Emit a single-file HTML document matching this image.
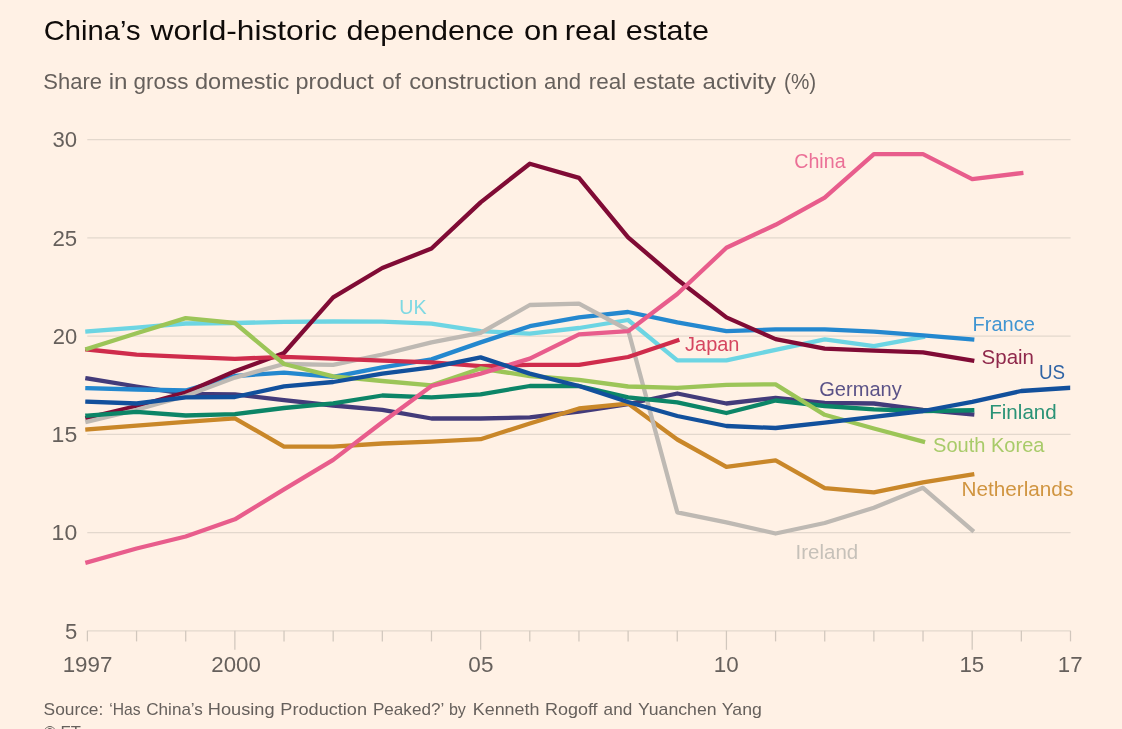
<!DOCTYPE html>
<html lang="en">
<head>
<meta charset="utf-8">
<title>China's world-historic dependence on real estate</title>
<style>
html,body{margin:0;padding:0;background:#fff1e5;}
body{width:1122px;height:729px;overflow:hidden;font-family:"Liberation Sans",sans-serif;}
svg{display:block;}
svg text{font-family:"Liberation Sans",sans-serif;}
.grid line{stroke:#e3d8cd;stroke-width:1.3;}
.tick line{stroke:#d1c7bd;stroke-width:1.25;}
.ser polyline{fill:none;stroke-width:4.3;stroke-linejoin:round;stroke-linecap:square;}
</style>
</head>
<body>
<svg width="1122" height="729" viewBox="0 0 1122 729">
<rect x="0" y="0" width="1122" height="729" fill="#fff1e5"/>
<g class="grid">
<line x1="87.3" x2="1070.6" y1="139.6" y2="139.6"/>
<line x1="87.3" x2="1070.6" y1="237.9" y2="237.9"/>
<line x1="87.3" x2="1070.6" y1="336.2" y2="336.2"/>
<line x1="87.3" x2="1070.6" y1="434.4" y2="434.4"/>
<line x1="87.3" x2="1070.6" y1="532.6" y2="532.6"/>
<line x1="87.3" x2="1070.6" y1="630.8" y2="630.8"/>
</g>
<g class="tick">
<line x1="87.40" x2="87.40" y1="630.8" y2="641.4"/>
<line x1="136.56" x2="136.56" y1="630.8" y2="641.4"/>
<line x1="185.71" x2="185.71" y1="630.8" y2="641.4"/>
<line x1="234.87" x2="234.87" y1="630.8" y2="649.8"/>
<line x1="284.02" x2="284.02" y1="630.8" y2="641.4"/>
<line x1="333.18" x2="333.18" y1="630.8" y2="641.4"/>
<line x1="382.33" x2="382.33" y1="630.8" y2="641.4"/>
<line x1="431.49" x2="431.49" y1="630.8" y2="641.4"/>
<line x1="480.64" x2="480.64" y1="630.8" y2="649.8"/>
<line x1="529.79" x2="529.79" y1="630.8" y2="641.4"/>
<line x1="578.95" x2="578.95" y1="630.8" y2="641.4"/>
<line x1="628.11" x2="628.11" y1="630.8" y2="641.4"/>
<line x1="677.26" x2="677.26" y1="630.8" y2="641.4"/>
<line x1="726.42" x2="726.42" y1="630.8" y2="649.8"/>
<line x1="775.57" x2="775.57" y1="630.8" y2="641.4"/>
<line x1="824.73" x2="824.73" y1="630.8" y2="641.4"/>
<line x1="873.88" x2="873.88" y1="630.8" y2="641.4"/>
<line x1="923.03" x2="923.03" y1="630.8" y2="641.4"/>
<line x1="972.19" x2="972.19" y1="630.8" y2="649.8"/>
<line x1="1021.35" x2="1021.35" y1="630.8" y2="641.4"/>
<line x1="1070.50" x2="1070.50" y1="630.8" y2="641.4"/>
</g>
<defs><clipPath id="plotclip"><rect x="80" y="100" width="990.2" height="540"/></clipPath></defs>
<g class="ser" clip-path="url(#plotclip)">
<polyline stroke="#6dd5e3" points="87.4,331.4 136.6,327.6 185.7,323.5 234.9,323.0 284.0,321.8 333.2,321.5 382.3,321.7 431.5,323.7 480.6,331.2 529.8,333.7 579.0,328.0 628.1,320.0 677.3,360.4 726.4,360.4 775.6,349.9 824.7,339.4 873.9,346.1 923.0,337.0"/>
<polyline stroke="#433b7a" points="87.4,378.4 136.6,386.5 185.7,393.8 234.9,394.4 284.0,400.2 333.2,405.5 382.3,409.8 431.5,418.5 480.6,418.5 529.8,417.3 579.0,411.5 628.1,404.0 677.3,393.5 726.4,403.5 775.6,397.8 824.7,402.8 873.9,403.5 923.0,409.8 972.2,414.4"/>
<polyline stroke="#2488cf" points="87.4,388.1 136.6,389.5 185.7,390.5 234.9,376.0 284.0,372.7 333.2,376.9 382.3,367.3 431.5,359.4 480.6,342.4 529.8,326.2 579.0,317.4 628.1,312.0 677.3,322.4 726.4,331.2 775.6,329.4 824.7,329.4 873.9,331.7 923.0,335.4 972.2,339.4"/>
<polyline stroke="#c98729" points="87.4,429.5 136.6,425.6 185.7,421.8 234.9,418.3 284.0,446.7 333.2,446.7 382.3,443.5 431.5,441.7 480.6,439.2 529.8,423.5 579.0,408.5 628.1,403.6 677.3,439.5 726.4,466.9 775.6,460.3 824.7,488.1 873.9,492.3 923.0,482.4 972.2,474.4"/>
<polyline stroke="#800b35" points="87.4,417.8 136.6,406.0 185.7,392.5 234.9,371.3 284.0,353.0 333.2,297.3 382.3,268.0 431.5,248.5 480.6,202.4 529.8,163.7 579.0,177.9 628.1,237.3 677.3,279.5 726.4,317.4 775.6,339.1 824.7,348.6 873.9,350.6 923.0,352.4 972.2,360.6"/>
<polyline stroke="#beb9b3" points="87.4,421.7 136.6,409.8 185.7,396.0 234.9,377.6 284.0,364.0 333.2,364.9 382.3,354.5 431.5,342.4 480.6,332.9 529.8,305.0 579.0,303.7 628.1,330.0 677.3,512.3 726.4,522.3 775.6,533.5 824.7,523.0 873.9,507.8 923.0,487.8 972.2,530.3"/>
<polyline stroke="#cf2c4c" points="87.4,349.5 136.6,354.6 185.7,356.8 234.9,358.9 284.0,356.8 333.2,358.7 382.3,360.6 431.5,362.4 480.6,366.1 529.8,364.9 579.0,364.9 628.1,357.0 677.3,340.4"/>
<polyline stroke="#0c8567" points="87.4,415.6 136.6,411.8 185.7,415.5 234.9,414.1 284.0,408.0 333.2,403.3 382.3,395.5 431.5,397.3 480.6,394.3 529.8,386.0 579.0,386.0 628.1,397.3 677.3,402.3 726.4,413.0 775.6,400.5 824.7,406.0 873.9,409.3 923.0,411.0 972.2,410.3"/>
<polyline stroke="#9cc558" points="87.4,348.8 136.6,333.3 185.7,318.1 234.9,323.0 284.0,364.0 333.2,376.3 382.3,381.0 431.5,385.3 480.6,368.5 529.8,376.0 579.0,379.8 628.1,386.5 677.3,387.8 726.4,384.8 775.6,384.3 824.7,414.8 873.9,428.5 923.0,441.5"/>
<polyline stroke="#e85d8c" points="87.4,562.3 136.6,548.5 185.7,536.5 234.9,519.3 284.0,489.4 333.2,459.9 382.3,422.3 431.5,386.0 480.6,373.6 529.8,358.6 579.0,334.4 628.1,331.2 677.3,294.0 726.4,247.8 775.6,224.8 824.7,197.6 873.9,154.2 923.0,154.2 972.2,179.1 1021.3,173.1"/>
<polyline stroke="#12509c" points="87.4,401.7 136.6,403.5 185.7,397.4 234.9,397.0 284.0,386.3 333.2,382.0 382.3,373.6 431.5,367.3 480.6,357.4 529.8,373.6 579.0,386.0 628.1,402.0 677.3,416.0 726.4,426.0 775.6,428.0 824.7,422.7 873.9,416.8 923.0,411.0 972.2,401.8 1021.3,391.0 1070.5,387.8"/>
</g>
<g class="txt">
<text y="40.4" font-size="28.5" fill="#0f0b09"><tspan x="43.76" textLength="96.75" lengthAdjust="spacingAndGlyphs">China’s</tspan> <tspan x="150.57" textLength="186.56" lengthAdjust="spacingAndGlyphs">world-historic</tspan> <tspan x="346.42" textLength="167.72" lengthAdjust="spacingAndGlyphs">dependence</tspan> <tspan x="523.99" textLength="34.48" lengthAdjust="spacingAndGlyphs">on</tspan> <tspan x="564.71" textLength="51.88" lengthAdjust="spacingAndGlyphs">real</tspan> <tspan x="625.68" textLength="83.21" lengthAdjust="spacingAndGlyphs">estate</tspan></text>
<text y="88.6" font-size="21.2" fill="#66605c"><tspan x="43.35" textLength="58.69" lengthAdjust="spacingAndGlyphs">Share</tspan> <tspan x="108.74" textLength="18.84" lengthAdjust="spacingAndGlyphs">in</tspan> <tspan x="133.47" textLength="54.92" lengthAdjust="spacingAndGlyphs">gross</tspan> <tspan x="194.98" textLength="94.18" lengthAdjust="spacingAndGlyphs">domestic</tspan> <tspan x="295.57" textLength="78.15" lengthAdjust="spacingAndGlyphs">product</tspan> <tspan x="382.37" textLength="18.63" lengthAdjust="spacingAndGlyphs">of</tspan> <tspan x="409.21" textLength="127.89" lengthAdjust="spacingAndGlyphs">construction</tspan> <tspan x="544.08" textLength="36.92" lengthAdjust="spacingAndGlyphs">and</tspan> <tspan x="588.85" textLength="37.49" lengthAdjust="spacingAndGlyphs">real</tspan> <tspan x="633.32" textLength="62.23" lengthAdjust="spacingAndGlyphs">estate</tspan> <tspan x="702.61" textLength="73.36" lengthAdjust="spacingAndGlyphs">activity</tspan> <tspan x="784.12" textLength="32.13" lengthAdjust="spacingAndGlyphs">(%)</tspan></text>
<text y="715.0" font-size="16.6" fill="#66605c"><tspan x="43.61" textLength="59.68" lengthAdjust="spacingAndGlyphs">Source:</tspan> <tspan x="109.32" textLength="31.35" lengthAdjust="spacingAndGlyphs">‘Has</tspan> <tspan x="146.29" textLength="56.61" lengthAdjust="spacingAndGlyphs">China’s</tspan> <tspan x="207.75" textLength="66.80" lengthAdjust="spacingAndGlyphs">Housing</tspan> <tspan x="280.39" textLength="86.66" lengthAdjust="spacingAndGlyphs">Production</tspan> <tspan x="372.95" textLength="70.64" lengthAdjust="spacingAndGlyphs">Peaked?’</tspan> <tspan x="448.93" textLength="16.98" lengthAdjust="spacingAndGlyphs">by</tspan> <tspan x="472.76" textLength="66.64" lengthAdjust="spacingAndGlyphs">Kenneth</tspan> <tspan x="544.97" textLength="52.58" lengthAdjust="spacingAndGlyphs">Rogoff</tspan> <tspan x="603.64" textLength="28.59" lengthAdjust="spacingAndGlyphs">and</tspan> <tspan x="638.02" textLength="78.51" lengthAdjust="spacingAndGlyphs">Yuanchen</tspan> <tspan x="721.86" textLength="39.96" lengthAdjust="spacingAndGlyphs">Yang</tspan></text>
<text x="52.58" y="147.4" font-size="21.5" fill="#66605c" textLength="24.60" lengthAdjust="spacingAndGlyphs">30</text>
<text x="52.46" y="245.7" font-size="21.5" fill="#66605c" textLength="24.73" lengthAdjust="spacingAndGlyphs">25</text>
<text x="52.77" y="344.0" font-size="21.5" fill="#66605c" textLength="24.40" lengthAdjust="spacingAndGlyphs">20</text>
<text x="51.61" y="442.2" font-size="21.5" fill="#66605c" textLength="25.66" lengthAdjust="spacingAndGlyphs">15</text>
<text x="51.61" y="540.4" font-size="21.5" fill="#66605c" textLength="25.56" lengthAdjust="spacingAndGlyphs">10</text>
<text x="64.91" y="638.6" font-size="21.5" fill="#66605c" textLength="12.28" lengthAdjust="spacingAndGlyphs">5</text>
<text x="62.68" y="671.6" font-size="21.5" fill="#66605c" textLength="49.71" lengthAdjust="spacingAndGlyphs">1997</text>
<text x="211.30" y="671.6" font-size="21.5" fill="#66605c" textLength="49.50" lengthAdjust="spacingAndGlyphs">2000</text>
<text x="468.36" y="671.6" font-size="21.5" fill="#66605c" textLength="25.04" lengthAdjust="spacingAndGlyphs">05</text>
<text x="713.83" y="671.6" font-size="21.5" fill="#66605c" textLength="24.89" lengthAdjust="spacingAndGlyphs">10</text>
<text x="959.46" y="671.6" font-size="21.5" fill="#66605c" textLength="24.80" lengthAdjust="spacingAndGlyphs">15</text>
<text x="1057.84" y="671.6" font-size="21.5" fill="#66605c" textLength="24.75" lengthAdjust="spacingAndGlyphs">17</text>
<text x="794.27" y="167.8" font-size="20.5" fill="#e85d8c" fill-opacity="0.88" textLength="51.31" lengthAdjust="spacingAndGlyphs">China</text>
<text x="972.51" y="330.5" font-size="20.5" fill="#2488cf" fill-opacity="0.88" textLength="62.33" lengthAdjust="spacingAndGlyphs">France</text>
<text x="981.60" y="363.7" font-size="20.5" fill="#800b35" fill-opacity="0.88" textLength="52.37" lengthAdjust="spacingAndGlyphs">Spain</text>
<text x="1039.04" y="379.4" font-size="20.5" fill="#12509c" fill-opacity="0.88" textLength="26.11" lengthAdjust="spacingAndGlyphs">US</text>
<text x="989.22" y="418.6" font-size="20.5" fill="#0c8567" fill-opacity="0.88" textLength="67.52" lengthAdjust="spacingAndGlyphs">Finland</text>
<text x="933.08" y="451.7" font-size="20.5" fill="#9cc558" fill-opacity="0.88" textLength="111.41" lengthAdjust="spacingAndGlyphs">South Korea</text>
<text x="961.46" y="496.0" font-size="20.5" fill="#c98729" fill-opacity="0.88" textLength="111.82" lengthAdjust="spacingAndGlyphs">Netherlands</text>
<text x="795.62" y="558.5" font-size="20.5" fill="#beb9b3" fill-opacity="0.88" textLength="62.56" lengthAdjust="spacingAndGlyphs">Ireland</text>
<text x="819.24" y="395.5" font-size="20.5" fill="#433b7a" fill-opacity="0.88" textLength="82.59" lengthAdjust="spacingAndGlyphs">Germany</text>
<text x="685.09" y="351.0" font-size="20.5" fill="#cf2c4c" fill-opacity="0.88" textLength="54.37" lengthAdjust="spacingAndGlyphs">Japan</text>
<text x="399.33" y="314.2" font-size="20.5" fill="#6dd5e3" fill-opacity="0.88" textLength="27.25" lengthAdjust="spacingAndGlyphs">UK</text>
<text x="43.7" y="738.4" font-size="16.6" fill="#66605c">© FT</text>
</g>
</svg>
</body>
</html>
